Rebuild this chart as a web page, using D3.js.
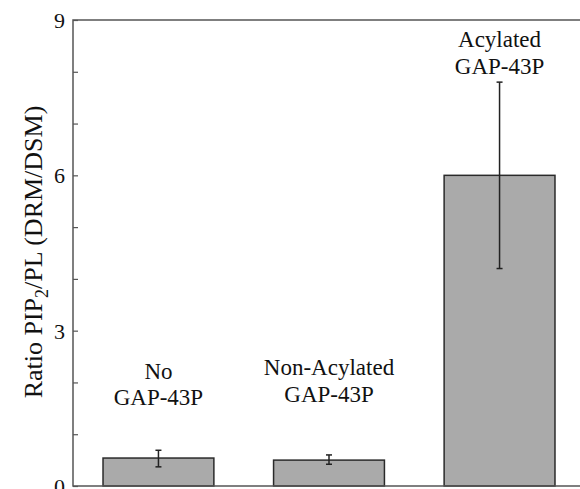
<!DOCTYPE html>
<html>
<head>
<meta charset="utf-8">
<script src="https://cdn.jsdelivr.net/npm/d3@7"></script>
<style>
  body { margin: 0; background: #fff; overflow: hidden; }
  svg { display: block; }
</style>
</head>
<body>
<script>
// data
const categories = ['No', 'Non-Acylated', 'Acylated'];
const labelLines = [['No', 'GAP-43P'], ['Non-Acylated', 'GAP-43P'], ['Acylated', 'GAP-43P']];
const values = [0.54, 0.50, 6.0];
const errLow = [0.37, 0.42, 4.2];
const errHigh = [0.69, 0.60, 7.8];
const majorTicks = [0, 3, 6, 9];
const minorTicks = [1, 2, 4, 5, 7, 8];

const svgWidth = 580;
const svgHeight = 489;
const margin = { top: 20, left: 73 };
const plotRight = 585; // frame runs past the window edge
const plotBottom = 486;
const serif = '"Liberation Serif", "DejaVu Serif", serif';

const svg = d3.select('body')
  .append('svg')
  .attr('width', svgWidth)
  .attr('height', svgHeight);

const xScale = d3.scaleBand()
  .domain(categories)
  .range([margin.left, plotRight])
  .paddingInner(0.35)
  .paddingOuter(0.176);

const yScale = d3.scaleLinear().domain([0, 9]).range([plotBottom, margin.top]);

// bars
svg.selectAll('rect.bar')
  .data(values)
  .enter().append('rect')
  .attr('class', 'bar')
  .attr('x', (d, i) => xScale(categories[i]))
  .attr('y', d => yScale(d))
  .attr('width', xScale.bandwidth())
  .attr('height', d => yScale(0) - yScale(d))
  .attr('fill', '#aaaaaa')
  .attr('stroke', '#2a2a2a')
  .attr('stroke-width', 1.5);

// error bars
const cx = i => xScale(categories[i]) + xScale.bandwidth() / 2;
const err = svg.append('g').attr('stroke', '#222').attr('stroke-width', 1.5);
values.forEach((v, i) => {
  err.append('line')
    .attr('x1', cx(i)).attr('x2', cx(i))
    .attr('y1', yScale(errLow[i])).attr('y2', yScale(errHigh[i]));
  [errLow[i], errHigh[i]].forEach(e => {
    err.append('line')
      .attr('x1', cx(i) - 3).attr('x2', cx(i) + 3)
      .attr('y1', yScale(e)).attr('y2', yScale(e));
  });
});

// frame: top, left, bottom (right side falls outside the window)
svg.append('path')
  .attr('d', `M${svgWidth + 10},${margin.top}H${margin.left}V${plotBottom}H${svgWidth + 10}`)
  .attr('fill', 'none')
  .attr('stroke', '#555')
  .attr('stroke-width', 1.5);

// y axis, ticks pointing inward
const yAxis = svg.append('g')
  .attr('transform', `translate(${margin.left},0)`)
  .call(d3.axisRight(yScale).tickValues(majorTicks.concat(minorTicks)).tickSize(5).tickFormat(''));
yAxis.select('.domain').remove();
yAxis.selectAll('.tick line').attr('stroke', '#555').attr('stroke-width', 1.2);

svg.append('g')
  .selectAll('text')
  .data(majorTicks)
  .enter().append('text')
  .attr('x', margin.left - 8)
  .attr('y', d => yScale(d))
  .attr('dy', '0.36em')
  .attr('text-anchor', 'end')
  .attr('fill', '#111')
  .style('font-family', serif)
  .style('font-size', '22px')
  .text(d => d);

// y label
const yl = svg.append('text')
  .attr('transform', 'translate(42,252) rotate(-90)')
  .attr('text-anchor', 'middle')
  .attr('fill', '#111')
  .style('font-family', serif)
  .style('font-size', '26px');
yl.append('tspan').text('Ratio PIP');
yl.append('tspan').attr('dy', 6).style('font-size', '18px').text('2');
yl.append('tspan').attr('dy', -6).text('/PL (DRM/DSM)');

// category labels
const labelY = [[379, 405], [375, 402], [47, 74]];
labelLines.forEach((lines, i) => {
  lines.forEach((t, j) => {
    svg.append('text')
      .attr('x', cx(i))
      .attr('y', labelY[i][j])
      .attr('text-anchor', 'middle')
      .attr('fill', '#111')
      .style('font-family', serif)
      .style('font-size', '23px')
      .text(t);
  });
});
</script>
</body>
</html>
